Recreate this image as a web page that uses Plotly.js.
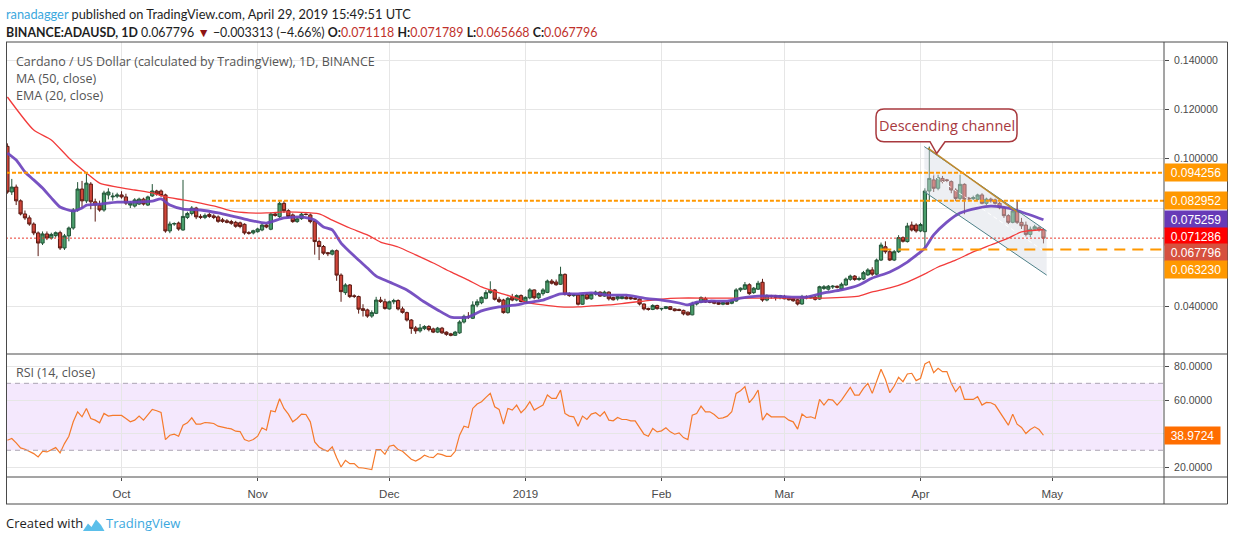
<!DOCTYPE html>
<html>
<head>
<meta charset="utf-8">
<script src="https://cdn.plot.ly/plotly-3.0.1.min.js"></script>
<style>
  html, body { margin: 0; padding: 0; background: #fff; }
  #chart { width: 1234px; height: 541px; }
</style>
</head>
<body>
<div id="chart"></div>
<script>
// ADA/USD 日足(2018-09-05 〜 2019-04-29)。価格は 1e-4 単位で持ち、描画時に戻す。
const firstDay = "2018-09-05"

const opens = [
  1050, 865, 885, 829, 776, 760, 735, 699, 658, 695,
  678, 688, 700, 638, 687, 719, 792, 877, 829, 897,
  825, 812, 792, 853, 845, 848, 853, 845, 812, 808,
  816, 836, 812, 849, 869, 869, 853, 707, 735, 739,
  711, 762, 778, 800, 766, 762, 774, 768, 764, 752,
  748, 745, 742, 740, 734, 700, 699, 704, 711, 731,
  714, 776, 765, 819, 789, 772, 745, 757, 775, 772,
  745, 664, 644, 619, 613, 627, 528, 457, 488, 444,
  441, 392, 387, 362, 373, 427, 420, 391, 420, 425,
  391, 376, 346, 314, 302, 311, 320, 310, 297, 313,
  297, 290, 284, 294, 338, 361, 353, 407, 416, 434,
  457, 468, 430, 427, 376, 438, 427, 445, 419, 436,
  468, 436, 453, 458, 504, 500, 491, 531, 453, 445,
  447, 410, 449, 432, 451, 459, 443, 459, 437, 432,
  433, 439, 437, 434, 431, 411, 393, 389, 405, 391,
  393, 400, 391, 389, 385, 378, 367, 411, 418, 433,
  422, 422, 417, 410, 417, 414, 423, 468, 471, 489,
  457, 471, 499, 427, 445, 445, 437, 441, 437, 433,
  428, 411, 441, 436, 439, 431, 474, 471, 480, 483,
  472, 488, 511, 524, 510, 512, 529, 549, 532, 589,
  643, 623, 589, 623, 680, 664, 731, 731, 707, 704,
  869, 914, 880, 920, 914, 907, 873, 839, 896, 840,
  838, 835, 853, 819, 836, 833, 819, 801, 769, 742,
  788, 742, 731, 693, 714, 720, 711.18
]
const highs = [
  1062, 918, 895, 835, 790, 770, 742, 705, 705, 705,
  700, 705, 708, 695, 725, 800, 905, 910, 938, 905,
  838, 830, 870, 880, 862, 862, 868, 858, 828, 840,
  842, 842, 850, 897, 874, 875, 858, 745, 742, 745,
  914, 785, 808, 805, 775, 778, 780, 775, 770, 760,
  755, 752, 748, 745, 738, 706, 712, 720, 736, 735,
  782, 784, 827, 828, 795, 778, 762, 782, 778, 778,
  750, 672, 650, 622, 632, 632, 535, 495, 492, 450,
  445, 410, 392, 385, 440, 440, 432, 425, 432, 430,
  400, 380, 350, 322, 330, 325, 325, 315, 318, 318,
  300, 294, 302, 345, 368, 378, 422, 430, 442, 467,
  503, 472, 440, 432, 440, 452, 450, 450, 442, 475,
  470, 458, 475, 510, 512, 510, 562, 535, 458, 452,
  450, 452, 455, 455, 465, 462, 465, 462, 440, 445,
  445, 444, 440, 440, 434, 413, 396, 410, 408, 395,
  402, 402, 393, 392, 388, 380, 420, 420, 442, 440,
  425, 425, 420, 420, 420, 426, 475, 478, 500, 495,
  480, 505, 513, 450, 448, 448, 448, 448, 440, 436,
  432, 448, 446, 445, 445, 485, 488, 488, 488, 486,
  498, 518, 530, 528, 522, 545, 556, 560, 595, 660,
  665, 630, 630, 690, 685, 740, 745, 738, 740, 880,
  1049, 935, 935, 930, 918, 912, 880, 935, 900, 845,
  850, 858, 860, 842, 842, 838, 825, 806, 775, 800,
  830, 760, 745, 725, 732, 726, 717.89
]
const lows = [
  858, 853, 812, 770, 752, 728, 690, 605, 650, 670,
  672, 680, 630, 630, 665, 712, 785, 800, 820, 795,
  745, 785, 785, 835, 830, 840, 838, 812, 800, 802,
  812, 810, 808, 845, 850, 845, 700, 698, 728, 708,
  708, 755, 770, 755, 755, 755, 760, 755, 740, 740,
  738, 732, 720, 718, 692, 692, 693, 700, 706, 718,
  710, 765, 760, 780, 760, 740, 740, 752, 770, 738,
  611, 589, 610, 605, 608, 505, 420, 448, 435, 435,
  372, 360, 355, 355, 370, 415, 388, 388, 410, 385,
  372, 340, 290, 290, 295, 305, 300, 293, 293, 290,
  282, 280, 282, 290, 332, 350, 350, 398, 410, 430,
  452, 425, 415, 372, 372, 422, 422, 418, 414, 430,
  430, 430, 445, 455, 490, 485, 488, 445, 440, 440,
  405, 408, 428, 428, 445, 440, 440, 425, 425, 425,
  430, 430, 428, 428, 405, 385, 384, 386, 388, 384,
  390, 386, 381, 382, 365, 364, 365, 405, 414, 416,
  414, 410, 407, 406, 408, 410, 420, 460, 468, 448,
  452, 468, 420, 422, 432, 425, 430, 430, 425, 420,
  405, 408, 430, 432, 425, 428, 468, 465, 472, 474,
  468, 485, 505, 505, 505, 508, 525, 525, 528, 585,
  615, 585, 585, 618, 660, 660, 705, 700, 702, 640,
  826, 865, 872, 900, 905, 860, 828, 832, 775, 828,
  832, 830, 815, 812, 822, 814, 795, 760, 735, 738,
  735, 715, 685, 682, 708, 704, 656.68
]
const closes = [
  865, 885, 829, 776, 760, 735, 699, 658, 695, 678,
  693, 700, 638, 687, 719, 792, 877, 829, 901, 825,
  812, 792, 861, 865, 848, 853, 845, 820, 820, 833,
  836, 816, 845, 869, 857, 851, 707, 735, 737, 715,
  766, 778, 800, 764, 762, 770, 766, 762, 746, 746,
  742, 738, 726, 725, 699, 698, 708, 715, 731, 723,
  776, 770, 819, 789, 765, 745, 756, 775, 774, 745,
  664, 644, 617, 615, 627, 528, 461, 488, 441, 442,
  390, 385, 362, 376, 427, 421, 393, 420, 425, 391,
  377, 346, 312, 302, 314, 320, 307, 297, 313, 294,
  288, 284, 297, 338, 361, 358, 407, 420, 438, 457,
  467, 430, 421, 376, 434, 427, 445, 421, 438, 468,
  436, 453, 468, 504, 495, 489, 531, 450, 445, 448,
  410, 449, 432, 451, 459, 443, 459, 432, 428, 441,
  441, 432, 432, 431, 411, 391, 389, 405, 392, 393,
  400, 389, 384, 385, 371, 367, 411, 418, 437, 419,
  418, 414, 410, 417, 410, 423, 468, 475, 489, 453,
  475, 495, 427, 445, 441, 437, 445, 432, 428, 424,
  411, 441, 436, 439, 430, 481, 481, 483, 483, 479,
  491, 512, 524, 510, 514, 538, 549, 532, 589, 650,
  623, 589, 623, 680, 665, 727, 711, 707, 733, 869,
  920, 880, 923, 907, 912, 873, 839, 896, 836, 837,
  842, 853, 819, 836, 829, 819, 801, 769, 742, 788,
  742, 728, 693, 714, 724, 711, 677.96
]

// RSI(14) 1本ごと
const rsi = [
  36, 37, 34.4, 31.4, 30.6, 29.4, 28, 26, 29.4, 29,
  30.4, 31.6, 28.4, 34, 38.4, 47, 53, 50, 55, 49,
  48, 46.4, 52, 50.4, 50.8, 50.8, 50.8, 49, 47, 48,
  50.4, 48, 51.4, 54.4, 53.6, 52.6, 36.4, 39, 39.6, 38.4,
  45, 46.4, 49.4, 45.6, 45.6, 46.6, 46.4, 46, 44.4, 43.6,
  43.2, 42.8, 41.4, 41.2, 36.4, 35.4, 36.4, 38.4, 43.4, 42,
  53.6, 53, 60.8, 55, 51.6, 47, 49, 51.6, 51.4, 47,
  35, 32, 30.4, 29.4, 32, 25.6, 20, 24, 22, 22,
  19.6, 19.4, 19, 18.5, 30.4, 30.4, 27.6, 32.4, 33, 30.4,
  29.4, 27, 24.6, 23.6, 25, 27, 26, 25.6, 28, 27.4,
  26.4, 26.4, 29.4, 39, 44.4, 43.6, 55, 57.6, 59, 61.6,
  64, 56, 54.4, 45.6, 55, 54, 57, 52.4, 55, 59,
  54, 55.6, 57, 63, 61, 61, 66, 52, 50.4, 50,
  44.4, 50.4, 48.4, 51.6, 52.4, 50.4, 53, 48, 47.6, 49.6,
  48.4, 48.4, 47.6, 47.6, 43.6, 39.6, 38.4, 43, 41, 41.6,
  43.4, 41, 39.6, 40.4, 37.6, 36.4, 51, 52, 56.4, 53,
  53, 51.4, 49, 49.4, 50.4, 53, 64, 65.6, 68, 58.4,
  61.6, 66, 48, 52, 50, 50, 50.4, 50, 48, 47,
  42.6, 51.6, 49.6, 50, 49, 60.4, 57, 60.4, 60, 57,
  60, 64, 67.6, 63, 63, 67, 70, 64, 71, 78.4,
  72.4, 64.4, 68.4, 73.6, 71, 75.6, 76, 71.6, 73, 81.6,
  83, 76.4, 79, 77, 77, 70, 65, 68.4, 60.4, 60.4,
  60.4, 62, 57, 58.6, 58.4, 57, 53, 48.4, 45, 51.6,
  45.6, 43.6, 40, 42.4, 44, 42.4, 38.9724
]

// MA(50) と EMA(20) は画像から数日おきに読んだ値
const maDates = [
  "2018-09-05", "2018-09-11", "2018-09-15", "2018-09-19", "2018-09-23", "2018-09-26", "2018-09-30",
  "2018-10-04", "2018-10-08", "2018-10-11", "2018-10-15", "2018-10-19", "2018-10-23", "2018-10-26",
  "2018-10-30", "2018-11-03", "2018-11-07", "2018-11-15", "2018-11-18", "2018-11-22", "2018-11-26",
  "2018-11-29", "2018-12-03", "2018-12-07", "2018-12-11", "2018-12-15", "2018-12-19", "2018-12-22",
  "2018-12-26", "2018-12-30", "2019-01-01", "2019-01-05", "2019-01-09", "2019-01-13", "2019-01-16",
  "2019-01-20", "2019-01-24", "2019-01-28", "2019-02-01", "2019-02-05", "2019-02-12", "2019-02-19",
  "2019-02-27", "2019-03-10", "2019-03-18", "2019-03-21", "2019-03-25", "2019-03-29", "2019-04-02",
  "2019-04-05", "2019-04-09", "2019-04-13", "2019-04-17", "2019-04-21", "2019-04-24", "2019-04-29"
]
const ma50 = [
  0.1250, 0.1116, 0.1076, 0.1003, 0.0942, 0.0901, 0.0885,
  0.0873, 0.0861, 0.0845, 0.0833, 0.0820, 0.0804, 0.0788,
  0.0780, 0.0780, 0.0784, 0.0776, 0.0751, 0.0719, 0.0691,
  0.0662, 0.0642, 0.0610, 0.0577, 0.0541, 0.0508, 0.0480,
  0.0456, 0.0435, 0.0419, 0.0407, 0.0399, 0.0399, 0.0403,
  0.0407, 0.0415, 0.0423, 0.0431, 0.0435, 0.0435, 0.0435,
  0.0435, 0.0435, 0.0443, 0.0460, 0.0476, 0.0500, 0.0533,
  0.0561, 0.0589, 0.0622, 0.0650, 0.0678, 0.0703, 0.071286
]
const emaDates = [
  "2018-09-05", "2018-09-07", "2018-09-09", "2018-09-11", "2018-09-13", "2018-09-15", "2018-09-17",
  "2018-09-20", "2018-09-22", "2018-09-23", "2018-09-26", "2018-09-30", "2018-10-04", "2018-10-08",
  "2018-10-10", "2018-10-12", "2018-10-15", "2018-10-19", "2018-10-23", "2018-10-26", "2018-10-30",
  "2018-11-03", "2018-11-07", "2018-11-11", "2018-11-14", "2018-11-16", "2018-11-18", "2018-11-20",
  "2018-11-24", "2018-11-26", "2018-11-28", "2018-12-01", "2018-12-05", "2018-12-09", "2018-12-12",
  "2018-12-15", "2018-12-19", "2018-12-22", "2018-12-26", "2018-12-30", "2019-01-01", "2019-01-05",
  "2019-01-09", "2019-01-13", "2019-01-16", "2019-01-20", "2019-01-24", "2019-01-28", "2019-02-01",
  "2019-02-05", "2019-02-07", "2019-02-09", "2019-02-12", "2019-02-16", "2019-02-19", "2019-02-23",
  "2019-02-27", "2019-03-03", "2019-03-06", "2019-03-10", "2019-03-14", "2019-03-18", "2019-03-21",
  "2019-03-25", "2019-03-29", "2019-04-02", "2019-04-04", "2019-04-07", "2019-04-10", "2019-04-14",
  "2019-04-17", "2019-04-21", "2019-04-24", "2019-04-29"
]
const ema20 = [
  0.1023, 0.0995, 0.0946, 0.0914, 0.0881, 0.0841, 0.0804,
  0.0788, 0.0800, 0.0812, 0.0816, 0.0824, 0.0824, 0.0828,
  0.0837, 0.0812, 0.0796, 0.0792, 0.0780, 0.0768, 0.0751,
  0.0739, 0.0760, 0.0764, 0.0751, 0.0723, 0.0711, 0.0658,
  0.0589, 0.0557, 0.0524, 0.0500, 0.0468, 0.0419, 0.0387,
  0.0358, 0.0358, 0.0383, 0.0399, 0.0407, 0.0415, 0.0427,
  0.0452, 0.0452, 0.0456, 0.0447, 0.0447, 0.0435, 0.0427,
  0.0415, 0.0407, 0.0419, 0.0423, 0.0423, 0.0435, 0.0443,
  0.0443, 0.0439, 0.0439, 0.0456, 0.0468, 0.0488, 0.0516,
  0.0541, 0.0581, 0.0638, 0.0691, 0.0743, 0.0780, 0.0800,
  0.0808, 0.0800, 0.0784, 0.075259
]

// 描き込み(水平線・下降チャネル)
const levelHigh = 0.094256
const levelMid = 0.082952
const levelLow = 0.063230
const lastClose = 0.067796
const midLevelStart = "2018-10-21 14:00"
const lowLevelStart = "2019-03-22 20:00"
const channelX = ["2019-04-01 20:40", "2019-04-29 17:45"]
const channelUpper = [0.1049, 0.0707]
const channelLower = [0.0866, 0.0528]
const trendX = ["2019-04-02 17:00", "2019-04-22 23:00"]
const trendY = [0.1043, 0.0784]

const monthTicks = ["2018-10-01", "2018-11-01", "2018-12-01", "2019-01-01", "2019-02-01", "2019-03-01", "2019-04-01", "2019-05-01"]
const monthLabels = ["Oct", "Nov", "Dec", "2019", "Feb", "Mar", "Apr", "May"]
const priceTicks = [0.04, 0.06, 0.08, 0.10, 0.12, 0.14]
const priceTickText = ["0.040000", "", "", "0.100000", "0.120000", "0.140000"]
const rsiTicks = [20, 40, 60, 80]
const rsiTickText = ["20.0000", "", "60.0000", "80.0000"]

// 右端の値ラベル(値, 背景色, 重なり回避のずらし量 px)
const priceLabels = [
  [levelHigh, "#FF9800", 0],
  [levelMid, "#FF9800", 0],
  [0.075259, "#673AB7", 0],
  [0.071286, "#FF0000", -6.5],
  [lastClose, "#D6513F", -14.6],
  [levelLow, "#FF9800", -20]
]

const FONT = "'Liberation Sans', Arial, sans-serif"
const TEXT_FONT = "'Open Sans', 'Noto Sans', sans-serif"
const HEAD_FONT = "Lato, 'Open Sans', sans-serif"

// 枠・文字はピクセルで置くので paper 座標へ直す(描画域 x:6–1164, y:42–477)
const PX = (x) => (x - 6) / 1158
const PY = (y) => (477 - y) / 435
const dayMs = 86400000
const dates = closes.map((_, i) => new Date(Date.parse(firstDay) + i * dayMs).toISOString().slice(0, 10))
const scale = (list) => list.map((v) => v / 10000)

const traces = [
  {
    type: "scatter", x: [channelX[0], channelX[1], channelX[1], channelX[0]],
    y: [channelUpper[0], channelUpper[1], channelLower[1], channelLower[0]],
    fill: "toself", fillcolor: "rgba(214,219,228,0.45)", line: { width: 0 },
    mode: "lines", hoverinfo: "skip", xaxis: "x", yaxis: "y"
  },
  {
    type: "scatter", x: channelX,
    y: [(channelUpper[0] + channelLower[0]) / 2, (channelUpper[1] + channelLower[1]) / 2],
    mode: "lines", line: { color: "rgba(255,255,255,0.95)", width: 1, dash: "4px,3px" },
    hoverinfo: "skip", xaxis: "x", yaxis: "y"
  },
  {
    type: "candlestick", x: dates,
    open: scale(opens), high: scale(highs), low: scale(lows), close: scale(closes),
    increasing: { fillcolor: "#4A9E6B", line: { color: "#225437", width: 1 } },
    decreasing: { fillcolor: "#D0463A", line: { color: "#5B1A13", width: 1 } },
    whiskerwidth: 0, hoverinfo: "skip", xaxis: "x", yaxis: "y"
  },
  {
    type: "scatter", x: maDates, y: ma50, mode: "lines",
    line: { color: "#F23B3B", width: 1.3, shape: "spline", smoothing: 0.6 },
    hoverinfo: "skip", xaxis: "x", yaxis: "y"
  },
  {
    type: "scatter", x: emaDates, y: ema20, mode: "lines",
    line: { color: "#6C43BD", width: 2.8, shape: "spline", smoothing: 0.6 },
    opacity: 0.92, hoverinfo: "skip", xaxis: "x", yaxis: "y"
  },
  {
    type: "scatter", x: channelX, y: channelUpper, mode: "lines",
    line: { color: "#4D8088", width: 1 }, hoverinfo: "skip", xaxis: "x", yaxis: "y"
  },
  {
    type: "scatter", x: channelX, y: channelLower, mode: "lines",
    line: { color: "#4D8088", width: 1 }, hoverinfo: "skip", xaxis: "x", yaxis: "y"
  },
  {
    type: "scatter", x: trendX, y: trendY, mode: "lines",
    line: { color: "#C08A2E", width: 1.5 }, hoverinfo: "skip", xaxis: "x", yaxis: "y"
  },
  {
    type: "scatter", x: dates, y: rsi, mode: "lines",
    line: { color: "#F57A2C", width: 1.2 }, hoverinfo: "skip", xaxis: "x2", yaxis: "y2"
  }
]

const frame = "#4A4A4A"
const shapes = [
  // RSI の 30–70 帯
  { type: "rect", xref: "paper", yref: "y2", x0: 0, x1: PX(1162.7), y0: 30, y1: 70,
    fillcolor: "#F4E8FD", line: { width: 0 }, layer: "below" },
  { type: "line", xref: "paper", yref: "y2", x0: 0, x1: 1, y0: 70, y1: 70,
    line: { color: "#ABA5B3", width: 1, dash: "5px,4px" } },
  { type: "line", xref: "paper", yref: "y2", x0: 0, x1: 1, y0: 30, y1: 30,
    line: { color: "#ABA5B3", width: 1, dash: "5px,4px" } },
  // 水平線
  { type: "line", xref: "paper", yref: "y", x0: 0, x1: 1, y0: levelHigh, y1: levelHigh,
    line: { color: "#FF9800", width: 2, dash: "4px,2px" } },
  { type: "line", xref: "x", yref: "y", x0: midLevelStart, x1: "2019-06-10", y0: levelMid, y1: levelMid,
    line: { color: "#FF9800", width: 2, dash: "4px,2px" } },
  { type: "line", xref: "x", yref: "y", x0: lowLevelStart, x1: "2019-06-10", y0: levelLow, y1: levelLow,
    line: { color: "#FF9800", width: 2, dash: "11px,7px" } },
  { type: "line", xref: "paper", yref: "y", x0: 0, x1: 1, y0: lastClose, y1: lastClose,
    line: { color: "#E8392E", width: 1, dash: "2px,2px" } },
  // 枠
  { type: "line", xref: "paper", yref: "paper", x0: 0, x1: PX(1227.5), y0: 1, y1: 1, line: { color: frame, width: 1 } },
  { type: "line", xref: "paper", yref: "paper", x0: 0, x1: PX(1227.5), y0: PY(504), y1: PY(504), line: { color: frame, width: 1 } },
  { type: "line", xref: "paper", yref: "paper", x0: 0, x1: PX(1227.5), y0: PY(354), y1: PY(354), line: { color: frame, width: 1 } },
  { type: "line", xref: "paper", yref: "paper", x0: 0, x1: PX(1227.5), y0: 0, y1: 0, line: { color: frame, width: 1 } },
  { type: "line", xref: "paper", yref: "paper", x0: PX(6.5), x1: PX(6.5), y0: PY(504), y1: 1, line: { color: frame, width: 1 } },
  { type: "line", xref: "paper", yref: "paper", x0: 1, x1: 1, y0: PY(504), y1: 1, line: { color: frame, width: 1 } },
  { type: "line", xref: "paper", yref: "paper", x0: PX(1227.5), x1: PX(1227.5), y0: PY(504), y1: 1, line: { color: frame, width: 1 } }
]

// 吹き出し(角丸+しっぽ)
const callout = [
  ["M", 884, 109], ["L", 1009, 109], ["Q", 1017, 109, 1017, 117], ["L", 1017, 133.7],
  ["Q", 1017, 141.7, 1009, 141.7], ["L", 945, 141.7], ["L", 936.7, 153.5], ["L", 930, 141.7],
  ["L", 884, 141.7], ["Q", 876, 141.7, 876, 133.7], ["L", 876, 117], ["Q", 876, 109, 884, 109]
].map(([cmd, ...pts]) => cmd + pts.map((v, k) => (k % 2 ? PY(v) : PX(v)).toFixed(5)).join(",")).join(" ") + " Z"
shapes.push({ type: "path", xref: "paper", yref: "paper", path: callout,
  fillcolor: "#FFFFFF", line: { color: "#A8393E", width: 1.5 } })

// TradingView ロゴ(簡略)
const logo = [[83, 531], [88, 523.5], [91.5, 527], [96, 519.5], [101, 525], [104.5, 531]]
  .map(([x, y], k) => (k ? "L" : "M") + PX(x).toFixed(5) + "," + PY(y).toFixed(5)).join(" ") + " Z"
shapes.push({ type: "path", xref: "paper", yref: "paper", path: logo, fillcolor: "#5BBFEA", line: { width: 0 } })

const note = (x, y, text, size, color, family = TEXT_FONT) => ({
  xref: "paper", yref: "paper", x: PX(x), y: PY(y), xanchor: "left", yanchor: "middle",
  text: text, showarrow: false, font: { family: family, size: size, color: color }
})

const red = "#C0312B"
const annotations = [
  note(4, 14, '<span style="color:#3BA8DE">ranadagger</span> published on TradingView.com, April 29, 2019 15:49:51 UTC', 12.8, "#1E1E1E", HEAD_FONT),
  note(4, 32, '<b>BINANCE:ADAUSD, 1D</b> 0.067796 <span style="color:#8E1414">▼</span> −0.003313 (−4.66%) ' +
    `<b>O:</b><span style="color:${red}">0.071118</span> <b>H:</b><span style="color:${red}">0.071789</span> ` +
    `<b>L:</b><span style="color:${red}">0.065668</span> <b>C:</b><span style="color:${red}">0.067796</span>`, 12.4, "#1E1E1E", HEAD_FONT),
  note(14, 61, "Cardano / US Dollar (calculated by TradingView), 1D, BINANCE", 12.5, "#555555"),
  note(14, 78, "MA (50, close)", 12.5, "#555555"),
  note(14, 95, "EMA (20, close)", 12.5, "#555555"),
  note(14, 372, "RSI (14, close)", 12.5, "#555555"),
  note(4, 523, "Created with", 13, "#1E1E1E"),
  note(104, 523, "TradingView", 13, "#3BA8DE"),
  {
    xref: "paper", yref: "paper", x: PX(946.5), y: PY(125.5), xanchor: "center", yanchor: "middle",
    text: "Descending channel", showarrow: false, font: { family: TEXT_FONT, size: 14.5, color: "#A8393E" }
  }
]
priceLabels.forEach(([value, color, shift]) => {
  annotations.push({
    xref: "paper", yref: "y", x: 1, y: value, xanchor: "left", yanchor: "middle", yshift: shift,
    text: value.toFixed(6), showarrow: false, bgcolor: color, width: 58, height: 13, borderpad: 2,
    font: { family: FONT, size: 12, color: "#FFFFFF" }
  })
})
annotations.push({
  xref: "paper", yref: "y2", x: 1, y: rsi[rsi.length - 1], xanchor: "left", yanchor: "middle",
  text: rsi[rsi.length - 1].toFixed(4), showarrow: false, bgcolor: "#FF6D00", width: 51, height: 13, borderpad: 2,
  font: { family: FONT, size: 12, color: "#FFFFFF" }
})

const grid = "#E6E6E6"
const layout = {
  width: 1234, height: 541,
  margin: { l: 6, r: 70, t: 42, b: 64, pad: 0 },
  paper_bgcolor: "#FFFFFF", plot_bgcolor: "#FFFFFF",
  font: { family: FONT, size: 11, color: "#4A4A4A" },
  showlegend: false,
  boxgap: 0.18, boxgroupgap: 0.1,
  xaxis: {
    type: "date", domain: [0, 1], anchor: "y",
    range: ["2018-09-04 16:20", "2019-05-26 11:00"],
    tickvals: monthTicks, showticklabels: false, ticks: "",
    showgrid: true, gridcolor: grid, zeroline: false, showline: false,
    rangeslider: { visible: false }
  },
  xaxis2: {
    type: "date", domain: [0, 1], anchor: "y2", matches: "x",
    range: ["2018-09-04 16:20", "2019-05-26 11:00"],
    tickvals: monthTicks, ticktext: monthLabels, ticks: "outside", ticklen: 3, tickcolor: frame,
    ticklabelstandoff: 3,
    tickfont: { family: FONT, size: 11.5, color: "#4A4A4A" },
    showgrid: true, gridcolor: grid, zeroline: false, showline: false
  },
  yaxis: {
    domain: [PY(354), 1], anchor: "x", side: "right",
    range: [0.020827, 0.147296],
    tickvals: priceTicks, ticktext: priceTickText, ticks: "outside", ticklen: 4, tickcolor: frame,
    ticklabelstandoff: 3,
    tickfont: { family: FONT, size: 10.5, color: "#4A4A4A" },
    showgrid: true, gridcolor: grid, zeroline: false, showline: false
  },
  yaxis2: {
    domain: [0, PY(354)], anchor: "x2", side: "right",
    range: [14.03, 87.52],
    tickvals: rsiTicks, ticktext: rsiTickText, ticks: "outside", ticklen: 4, tickcolor: frame,
    ticklabelstandoff: 3,
    tickfont: { family: FONT, size: 10.5, color: "#4A4A4A" },
    showgrid: true, gridcolor: grid, zeroline: false, showline: false
  },
  shapes: shapes,
  annotations: annotations
}

Plotly.newPlot("chart", traces, layout, { staticPlot: true, displayModeBar: false })
</script>
</body>
</html>
